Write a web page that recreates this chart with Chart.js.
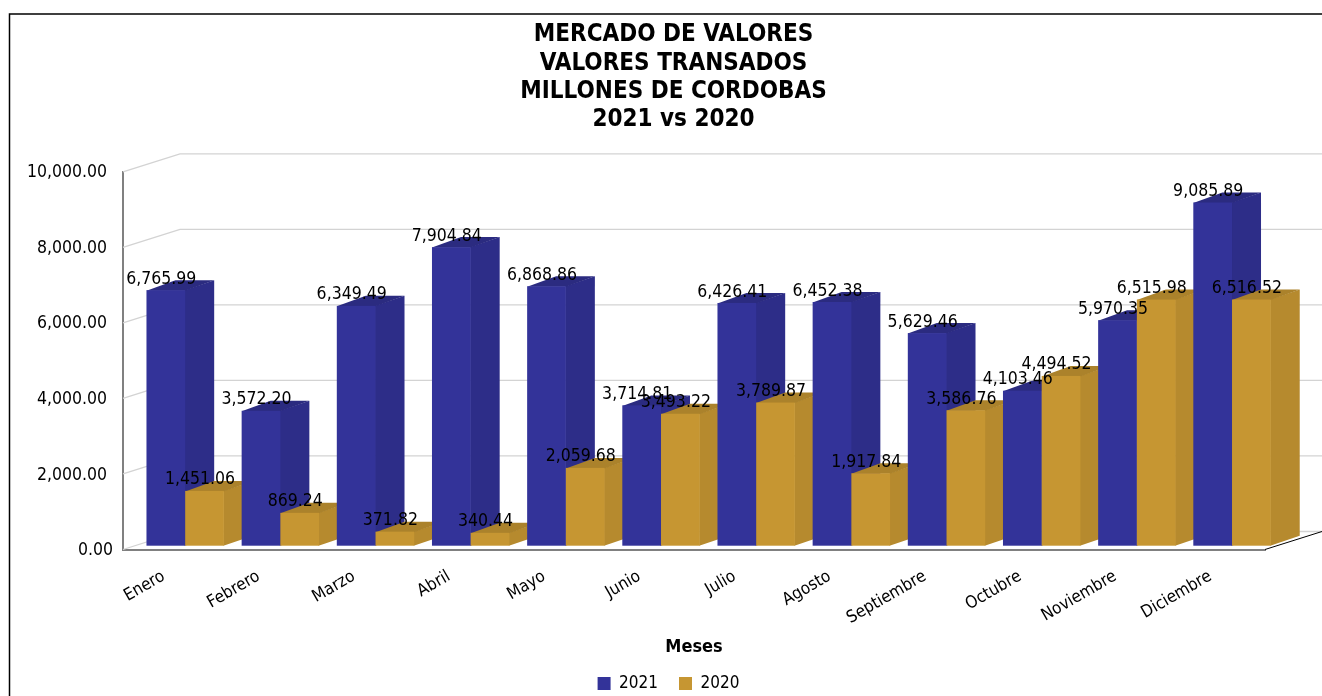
<!DOCTYPE html>
<html>
<head>
<meta charset="utf-8">
<title>Mercado de Valores</title>
<script src="https://cdn.jsdelivr.net/npm/chart.js@4/dist/chart.umd.min.js"></script>
<style>
    html, body { margin: 0; padding: 0; background: #fff; overflow: hidden; }
    canvas { display: block; }
</style>
</head>
<body>
<canvas id="valoresChart" width="1322" height="696"></canvas>
<script>
// Values
const months = ['Enero', 'Febrero', 'Marzo', 'Abril', 'Mayo', 'Junio', 'Julio', 'Agosto',
    'Septiembre', 'Octubre', 'Noviembre', 'Diciembre'];
const values2021 = [6765.99, 3572.20, 6349.49, 7904.84, 6868.86, 3714.81, 6426.41, 6452.38,
    5629.46, 4103.46, 5970.35, 9085.89];
const values2020 = [1451.06, 869.24, 371.82, 340.44, 2059.68, 3493.22, 3789.87, 1917.84,
    3586.76, 4494.52, 6515.98, 6516.52];
const titleLines = ['MERCADO DE VALORES', 'VALORES TRANSADOS', 'MILLONES DE CORDOBAS', '2021 vs 2020'];

const FONT = "'DejaVu Sans Condensed', 'DejaVu Sans', sans-serif";

const money = v => v.toLocaleString('en-US', { minimumFractionDigits: 2, maximumFractionDigits: 2 });

// Face colours of each series: front, side, top
const faces = [
    { front: '#333399', side: '#2d2d88', top: '#2b2b80' },
    { front: '#c69632', side: '#b68a2e', top: '#ab822b' }
];

// Fake 3D depth of the plot
const wallDepth = { x: 57, y: -18 };
const barDepth = { x: 29, y: -10 };
const barShift = { x: 14.6, y: -3.8 };

function drawBox(ctx, bar, face) {
    const left = bar.x - bar.width / 2 + barShift.x;
    const right = bar.x + bar.width / 2 + barShift.x;
    const top = bar.y + barShift.y;
    const bottom = bar.base + barShift.y;
    const dx = barDepth.x;
    const dy = barDepth.y;

    ctx.fillStyle = face.side;
    ctx.beginPath();
    ctx.moveTo(right - 0.5, top);
    ctx.lineTo(right + dx, top + dy);
    ctx.lineTo(right + dx, bottom + dy);
    ctx.lineTo(right - 0.5, bottom);
    ctx.closePath();
    ctx.fill();

    ctx.fillStyle = face.top;
    ctx.beginPath();
    ctx.moveTo(left, top + 0.5);
    ctx.lineTo(left + dx, top + dy);
    ctx.lineTo(right + dx, top + dy);
    ctx.lineTo(right, top + 0.5);
    ctx.closePath();
    ctx.fill();

    ctx.fillStyle = face.front;
    ctx.fillRect(left, top, right - left, bottom - top);
}

const framePlugin = {
    id: 'frame',
    // The legend sits a little left of the title centre in the original
    afterLayout(chart) {
        chart.legend.left -= 10;
    },
    beforeDraw(chart) {
        const ctx = chart.ctx;
        ctx.save();
        ctx.strokeStyle = '#000';
        ctx.lineWidth = 1.5;
        ctx.beginPath();
        ctx.moveTo(9.5, chart.height);
        ctx.lineTo(9.5, 14);
        ctx.lineTo(chart.width, 14);
        ctx.stroke();
        ctx.restore();
    }
};

const box3dPlugin = {
    id: 'box3d',
    // Replaces the flat bars, the boxes have to be painted back to front per month
    beforeDatasetsDraw(chart) {
        const ctx = chart.ctx;
        const { left, right, bottom } = chart.chartArea;
        const yScale = chart.scales.y;

        // Walls and floor
        ctx.save();
        ctx.strokeStyle = '#d3d3d3';
        ctx.lineWidth = 1.3;
        yScale.ticks.forEach(tick => {
            const y = yScale.getPixelForValue(tick.value);
            ctx.beginPath();
            ctx.moveTo(left, y);
            ctx.lineTo(left + wallDepth.x, y + wallDepth.y);
            ctx.lineTo(chart.width, y + wallDepth.y);
            ctx.stroke();
        });
        ctx.strokeStyle = '#000';
        ctx.lineWidth = 1;
        ctx.beginPath();
        ctx.moveTo(right, bottom);
        ctx.lineTo(right + wallDepth.x, bottom + wallDepth.y);
        ctx.stroke();

        // Y tick labels
        ctx.fillStyle = '#000';
        ctx.font = '17.5px ' + FONT;
        ctx.textAlign = 'right';
        ctx.textBaseline = 'middle';
        yScale.ticks.forEach(tick => {
            const x = tick.value === 0 ? left - 10 : left - 16;
            ctx.fillText(money(tick.value), x, yScale.getPixelForValue(tick.value) + 1);
        });

        // Boxes
        const metas = chart.getSortedVisibleDatasetMetas();
        months.forEach((month, i) => {
            metas.forEach(meta => drawBox(ctx, meta.data[i], faces[meta.index]));
        });

        // Value labels sit on top of every box
        ctx.fillStyle = '#000';
        ctx.textAlign = 'center';
        metas.forEach(meta => {
            meta.data.forEach((bar, i) => {
                const value = chart.data.datasets[meta.index].data[i];
                ctx.fillText(money(value), bar.x + barShift.x - 4.5, bar.y + barShift.y - 11);
            });
        });
        ctx.restore();
        return false;
    }
};

new Chart(document.getElementById('valoresChart').getContext('2d'), {
    type: 'bar',
    data: {
        labels: months,
        datasets: [
            { label: '2021', data: values2021, backgroundColor: faces[0].front },
            { label: '2020', data: values2020, backgroundColor: faces[1].front }
        ]
    },
    options: {
        responsive: false,
        animation: false,
        barPercentage: 1,
        categoryPercentage: 0.8135,
        layout: {
            autoPadding: false,
            padding: { top: 21, right: 57, left: 82, bottom: -6 }
        },
        plugins: {
            title: {
                display: true,
                text: titleLines,
                color: '#000',
                font: { family: FONT, size: 24, weight: 'bold', lineHeight: 1.18 },
                padding: { top: 0, bottom: 37.5 }
            },
            legend: {
                position: 'bottom',
                labels: {
                    boxWidth: 13,
                    boxHeight: 13,
                    padding: 21,
                    color: '#000',
                    font: { family: FONT, size: 17 }
                }
            },
            tooltip: { enabled: false }
        },
        scales: {
            x: {
                grid: { display: false, drawTicks: false },
                border: { color: '#808080', width: 2 },
                afterFit: scale => { scale.height = 104.5; },
                ticks: {
                    color: '#000',
                    padding: 17,
                    labelOffset: -7,
                    autoSkip: false,
                    minRotation: 30,
                    maxRotation: 30,
                    font: { family: FONT, size: 17 }
                },
                title: {
                    display: true,
                    text: 'Meses',
                    color: '#000',
                    font: { family: FONT, size: 18, weight: 'bold' },
                    padding: { top: 0, bottom: -3.8 }
                }
            },
            y: {
                min: 0,
                max: 10000,
                grid: { display: false, drawTicks: false },
                border: { color: '#808080', width: 2 },
                afterFit: scale => { scale.width = 41; },
                ticks: { display: false, stepSize: 2000 }
            }
        }
    },
    plugins: [framePlugin, box3dPlugin]
});
</script>
</body>
</html>
